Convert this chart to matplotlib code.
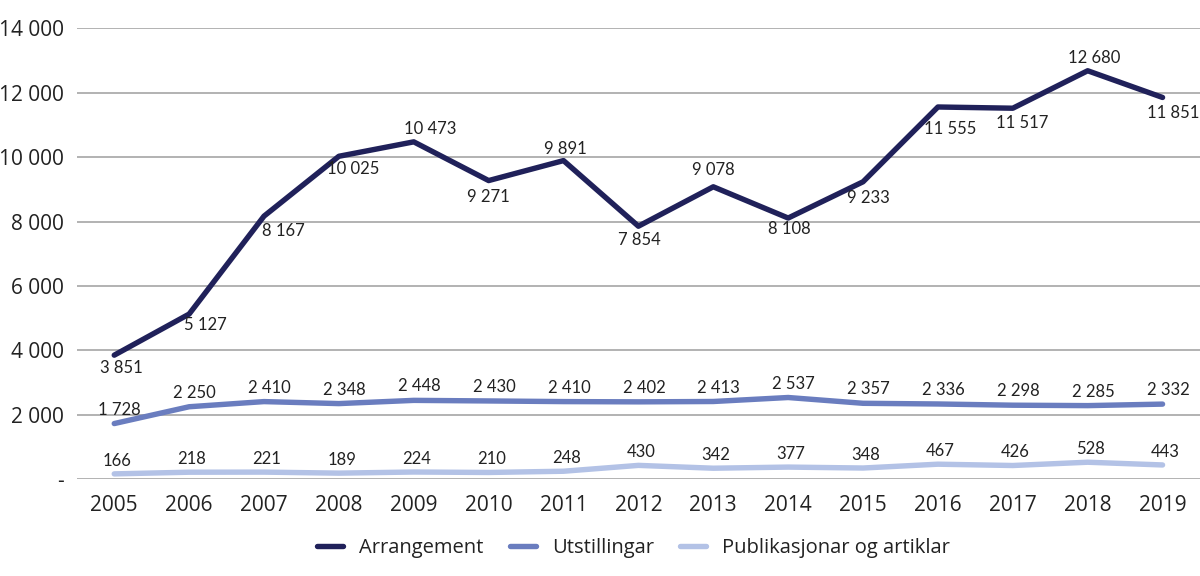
import matplotlib
matplotlib.use("Agg")
import matplotlib.pyplot as plt
from matplotlib.ticker import FuncFormatter, MultipleLocator

years = ["2005", "2006", "2007", "2008", "2009", "2010", "2011", "2012",
         "2013", "2014", "2015", "2016", "2017", "2018", "2019"]
arrangement = [3851, 5127, 8167, 10025, 10473, 9271, 9891, 7854, 9078, 8108,
               9233, 11555, 11517, 12680, 11851]
utstillingar = [1728, 2250, 2410, 2348, 2448, 2430, 2410, 2402, 2413, 2537,
                2357, 2336, 2298, 2285, 2332]
publikasjonar = [166, 218, 221, 189, 224, 210, 248, 430, 342, 377, 348, 467,
                 426, 528, 443]
series_names = ["Arrangement", "Utstillingar", "Publikasjonar og artiklar"]

colors = ["#20215a", "#6a7dbf", "#b3c2e6"]

plt.rcParams['font.family'] = ['Open Sans', 'DejaVu Sans']
label_family = ['Lato', 'DejaVu Sans']
label_size = 12

fig = plt.figure(figsize=(12, 5.76), dpi=100)
ax = fig.add_axes([0.064, 0.168, 0.936, 0.783])

x = list(range(len(years)))
for vals, c, name in zip([arrangement, utstillingar, publikasjonar], colors, series_names):
    ax.plot(x, vals, color=c, lw=3.9, solid_capstyle='round', solid_joinstyle='round',
            label=name, zorder=3)


def fmt(v):
    return f"{int(v):,}".replace(",", " ")


# label offsets (points) for Arrangement
arr_off = [(5, -9.5), (12, -8), (14, -11), (10, -9), (12, 9), (0, -12), (1, 8.5),
           (1, -10), (0, 12), (1, -8), (4, -11.5), (9, -16), (6.5, -11), (5, 9), (8, -11)]
for i, v in enumerate(arrangement):
    dx, dy = arr_off[i]
    ax.annotate(fmt(v), (i, v), xytext=(dx, dy), textcoords='offset points',
                ha='center', va='center', fontsize=label_size, family=label_family,
                color='#222222', zorder=4)
for i, v in enumerate(utstillingar):
    ax.annotate(fmt(v), (i, v), xytext=(4, 10), textcoords='offset points',
                ha='center', va='center', fontsize=label_size, family=label_family,
                color='#222222', zorder=4)
for i, v in enumerate(publikasjonar):
    ax.annotate(fmt(v), (i, v), xytext=(2, 9.5), textcoords='offset points',
                ha='center', va='center', fontsize=label_size, family=label_family,
                color='#222222', zorder=4)

ax.set_xlim(-0.5, len(years) - 0.5)
ax.set_ylim(0, 14000)
ax.yaxis.set_major_locator(MultipleLocator(2000))
ax.yaxis.set_major_formatter(FuncFormatter(lambda v, p: "-" if v == 0 else fmt(v)))
ax.set_xticks(x)
ax.set_xticklabels(years)
ax.tick_params(axis='both', length=0, labelsize=15, colors='#222222')
ax.tick_params(axis='x', pad=11)
ax.tick_params(axis='y', pad=9)
ax.grid(axis='y', color='#a6a6a6', lw=1.2)
ax.set_axisbelow(True)
for s in ax.spines.values():
    s.set_visible(False)

leg = fig.legend(loc='center', bbox_to_anchor=(0.528, 0.049), ncol=3, frameon=False,
                 fontsize=14.5, handlelength=1.3, handletextpad=0.8, columnspacing=1.3)
for t in leg.get_texts():
    t.set_color('#222222')

fig.savefig("out.png", dpi=100)
